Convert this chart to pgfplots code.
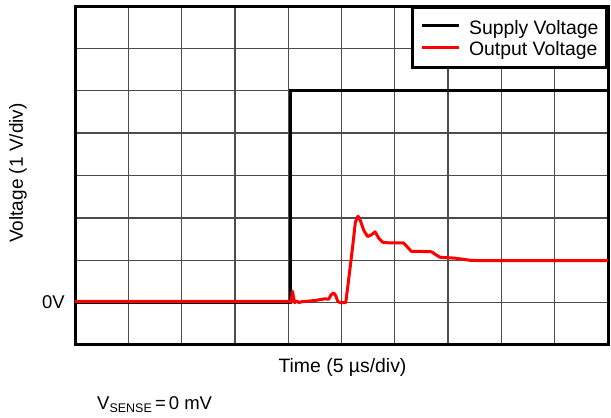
\documentclass[border=0pt]{standalone}
\usepackage{fontspec}
\setmainfont{Liberation Sans}
\usepackage{pgfplots}
\pgfplotsset{compat=1.18}
\begin{document}
\begin{tikzpicture}[x=1pt,y=1pt]
\useasboundingbox (0,0) rectangle (611,418);
\begin{axis}[
  at={(75pt,73pt)}, anchor=south west,
  scale only axis, width=533pt, height=339pt,
  xmin=0, xmax=10, ymin=-1, ymax=7,
  xtick={0,...,10}, ytick={-1,...,7},
  xticklabels={}, yticklabels={},
  major tick length=0pt,
  grid=major,
  major grid style={line width=1.3pt, color=black!70},
  axis line style={line width=3pt},
  clip mode=individual,
  legend style={at={(1,1)}, anchor=north east, line width=3pt, draw=black,
    font=\fontsize{19.4}{21}\selectfont, inner xsep=8pt, inner ysep=9pt,
    row sep=1pt, nodes={inner sep=0pt, text height=17.5pt, text depth=3pt}, column sep=9pt},
  legend cell align=left,
  legend image code/.code={\draw[#1, line width=3pt] (0pt,1pt) -- (37pt,1pt);},
]
\addplot[black, line width=3pt] coordinates {(0,0) (4.04,0) (4.04,5) (10,5)};
\addlegendentry{Supply Voltage}
\addplot[red, line width=3pt, line join=round] coordinates {
(0,0.03) (4.0,0.03) (4.05,0.01) (4.08,0.27) (4.12,0.0) (4.16,0.04) (4.2,0.0) (4.25,0.02)
(4.5,0.05) (4.69,0.09) (4.76,0.08) (4.80,0.18) (4.85,0.23) (4.89,0.17) (4.93,0.03)
(4.97,0) (5.08,0) (5.13,0.5) (5.21,1.33) (5.26,1.9) (5.31,2.04) (5.35,1.95) (5.42,1.70)
(5.49,1.56) (5.56,1.60) (5.63,1.67) (5.70,1.52) (5.78,1.42) (5.9,1.41) (6.16,1.41)
(6.23,1.32) (6.31,1.21) (6.45,1.21) (6.69,1.20) (6.77,1.13) (6.85,1.07) (7.13,1.05)
(7.41,1.0) (7.6,0.99) (10,0.99)};
\addlegendentry{Output Voltage}
\node[anchor=east, font=\fontsize{18.5}{20}\selectfont, inner sep=0pt] at (axis cs:0,0) [xshift=-10pt] {0V};
\end{axis}
\node[anchor=base, font=\fontsize{19.4}{21}\selectfont, inner sep=0pt] at (342.5,45) {Time (5 µs/div)};
\node[rotate=90, anchor=center, font=\fontsize{19}{21}\selectfont, inner sep=0pt] at (18,245) {Voltage (1 V/div)};
\node[anchor=base west, font=\fontsize{18.5}{20}\selectfont, inner sep=0pt] at (97,8) {V\raisebox{-0.3ex}{\fontsize{12.5}{13}\selectfont SENSE}\,=\,0 mV};
\end{tikzpicture}
\end{document}
